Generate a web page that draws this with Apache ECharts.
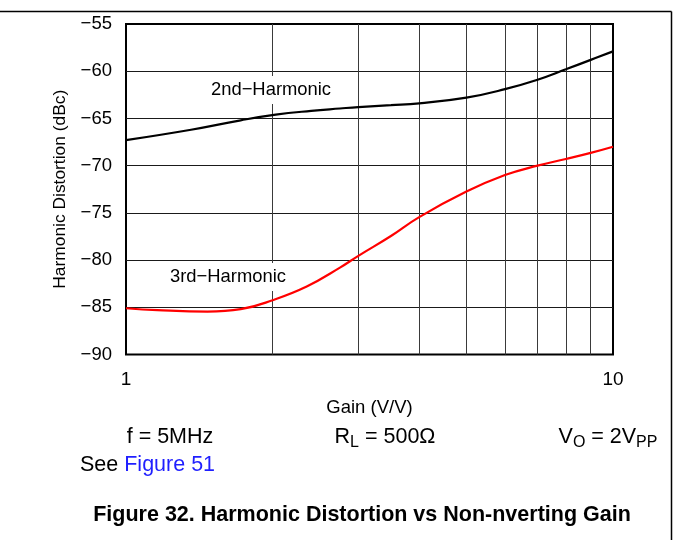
<!DOCTYPE html>
<html>
<head>
<meta charset="utf-8">
<script src="https://cdn.jsdelivr.net/npm/echarts@6/dist/echarts.min.js"></script>
<style>html,body{margin:0;padding:0;background:#fff;}#c{width:673px;height:540px;}</style>
</head>
<body>
<div id="c"></div>
<script>
// ---- data ----
var gain2nd = [1, 1.36, 1.72, 2.03, 2.4, 2.75, 3, 3.5, 4, 5, 6, 7, 8, 9, 10];
var hd2nd   = [-67.3, -66.2, -65.2, -64.6, -64.2, -63.95, -63.8, -63.6, -63.4, -62.8, -61.9, -60.9, -59.8, -58.8, -57.9];
var gain3rd = [1, 1.16, 1.47, 1.72, 2.0, 2.35, 2.75, 3, 3.5, 4, 5, 6, 7, 8, 9, 10];
var hd3rd   = [-85.1, -85.3, -85.45, -85.2, -84.25, -82.8, -80.8, -79.55, -77.45, -75.45, -72.75, -71.0, -70.0, -69.3, -68.65, -68.0];
var minorGridGains = [2, 3, 4, 5, 6, 7, 8, 9];
var yMin = -90, yMax = -55, yStep = 5;
var xMin = 1, xMax = 10;

function pairs(xs, ys) { return xs.map(function (x, i) { return [x, ys[i]]; }); }
var FONT = '"Liberation Sans", Arial, Helvetica, sans-serif';

var chart = echarts.init(document.getElementById('c'), null, {renderer: 'canvas'});
chart.setOption({
  animation: false,
  backgroundColor: '#fff',
  grid: {left: 126, right: 60, top: 24, bottom: 185.5, show: true, borderColor: '#000', borderWidth: 2, backgroundColor: 'transparent'},
  xAxis: {
    type: 'log', logBase: 10, min: xMin, max: xMax,
    axisLine: {show: false}, axisTick: {show: false},
    splitLine: {show: false},
    axisLabel: {fontSize: 19, color: '#000', fontFamily: FONT, margin: 16, showMinLabel: true, showMaxLabel: true}
  },
  yAxis: {
    type: 'value', min: yMin, max: yMax, interval: yStep,
    axisLine: {show: false}, axisTick: {show: false},
    splitLine: {show: true, showMinLine: false, showMaxLine: false, lineStyle: {color: '#1a1a1a', width: 1}},
    axisLabel: {fontSize: 18.5, color: '#000', fontFamily: FONT, margin: 14,
      formatter: function (v) { return String(v).replace('-', '\u2212'); }},
    name: 'Harmonic Distortion (dBc)', nameLocation: 'middle', nameGap: 57,
    nameTextStyle: {fontSize: 17.4, color: '#000', fontFamily: FONT}
  },
  series: [
    {
      type: 'line', name: '2nd-Harmonic', data: pairs(gain2nd, hd2nd), smooth: 0.45, showSymbol: false,
      lineStyle: {color: '#000', width: 2.2}, z: 3,
      markLine: {
        silent: true, symbol: ['none', 'none'], label: {show: false},
        lineStyle: {color: '#3a3a3a', width: 1, type: 'solid'},
        data: minorGridGains.map(function (g) { return {xAxis: g}; }),
        z: 1
      }
    },
    {
      type: 'line', name: '3rd-Harmonic', data: pairs(gain3rd, hd3rd), smooth: 0.45, showSymbol: false,
      lineStyle: {color: '#ff0000', width: 2.2}, z: 3
    }
  ],
  graphic: [
    {type: 'line', shape: {x1: 0, y1: 11.5, x2: 671.5, y2: 11.5}, style: {stroke: '#000', lineWidth: 1.5}},
    {type: 'line', shape: {x1: 671.5, y1: 11.5, x2: 671.5, y2: 540}, style: {stroke: '#000', lineWidth: 1.5}},
    {type: 'text', x: 271, y: 90, z: 10, style: {text: '2nd\u2212Harmonic', font: '18.4px ' + FONT, fill: '#000', align: 'center', verticalAlign: 'middle', backgroundColor: '#fff', padding: [5, 6]}},
    {type: 'text', x: 228, y: 277, z: 10, style: {text: '3rd\u2212Harmonic', font: '18.4px ' + FONT, fill: '#000', align: 'center', verticalAlign: 'middle', backgroundColor: '#fff', padding: [5, 6]}},
    {type: 'text', x: 369.5, y: 408, style: {text: 'Gain (V/V)', font: '18.5px ' + FONT, fill: '#000', align: 'center', verticalAlign: 'middle'}},
    {type: 'text', x: 170, y: 437, style: {text: 'f = 5MHz', font: '21.5px ' + FONT, fill: '#000', align: 'center', verticalAlign: 'middle'}},
    {type: 'text', x: 385, y: 437, style: {
      text: '{n|R}{s|L}{n| = 500\u03A9}', align: 'center', verticalAlign: 'middle',
      rich: {n: {fontSize: 21.5, fontFamily: FONT, fill: '#000', lineHeight: 27}, s: {fontSize: 16, fontFamily: FONT, fill: '#000', verticalAlign: 'bottom'}}
    }},
    {type: 'text', x: 608, y: 437, style: {
      text: '{n|V}{s|O}{n| = 2V}{s|PP}', align: 'center', verticalAlign: 'middle',
      rich: {n: {fontSize: 21.5, fontFamily: FONT, fill: '#000', lineHeight: 27}, s: {fontSize: 16, fontFamily: FONT, fill: '#000', verticalAlign: 'bottom'}}
    }},
    {type: 'text', x: 80, y: 465, style: {
      text: '{a|See }{b|Figure 51}', align: 'left', verticalAlign: 'middle',
      rich: {a: {fontSize: 21.5, fontFamily: FONT, fill: '#000'}, b: {fontSize: 21.5, fontFamily: FONT, fill: '#1f1fff'}}
    }},
    {type: 'text', x: 362, y: 515, style: {text: 'Figure 32. Harmonic Distortion vs Non-nverting Gain', font: 'bold 21.5px ' + FONT, fill: '#000', align: 'center', verticalAlign: 'middle'}}
  ]
});
</script>
</body>
</html>
